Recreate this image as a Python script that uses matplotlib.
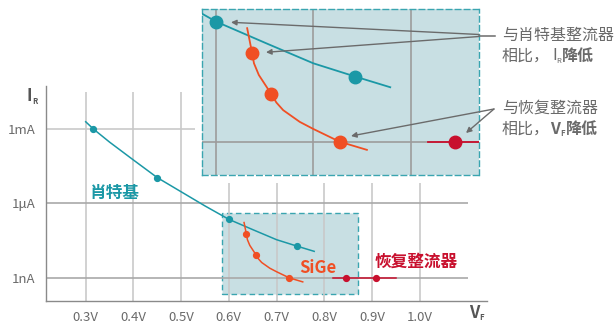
import numpy as np
import matplotlib
matplotlib.use("Agg")
import matplotlib.pyplot as plt
from matplotlib.patches import Rectangle, FancyArrowPatch

plt.rcParams['font.family'] = ['Noto Sans CJK SC', 'DejaVu Sans']

# Schottky diode: marked points and the curve through them (log10 of I_R in A)
schottky_v = [0.316, 0.450, 0.600, 0.743]
schottky_log_ir = [-3.0, -4.96, -6.64, -7.72]
schottky_curve_v = [0.300, 0.316, 0.350, 0.400, 0.450, 0.500, 0.550, 0.600, 0.652, 0.700, 0.743, 0.779]
schottky_curve_log_ir = [-2.71, -3.0, -3.53, -4.25, -4.96, -5.53, -6.10, -6.64, -7.07, -7.46, -7.72, -7.93]

# SiGe rectifier
sige_v = [0.637, 0.657, 0.727]
sige_log_ir = [-7.25, -8.07, -9.0]
sige_curve_v = [0.632, 0.637, 0.639, 0.644, 0.657, 0.662, 0.669, 0.686, 0.700, 0.727, 0.755]
sige_curve_log_ir = [-6.77, -7.25, -7.46, -7.69, -8.07, -8.23, -8.38, -8.61, -8.75, -9.0, -9.16]

# Recovery rectifier
recovery_v = [0.846, 0.908]
recovery_log_ir = [-9.0, -9.0]
recovery_line_v = [0.818, 0.950]
recovery_line_log_ir = [-9.0, -9.0]

x_ticks = [0.3, 0.4, 0.5, 0.6, 0.7, 0.8, 0.9, 1.0]
x_labels = ["0.3V", "0.4V", "0.5V", "0.6V", "0.7V", "0.8V", "0.9V", "1.0V"]
y_ticks = [1e-9, 1e-6, 1e-3]
y_labels = ["1nA", "1μA", "1mA"]

# zoomed window
zoom_v = (0.5856, 0.8702)
zoom_log_ir = (-9.654, -6.393)

TEAL = "#1b98a6"
ORANGE = "#f04f24"
DARKRED = "#c8102e"
FILL = "#c8dfe3"
GRAY_TXT = "#6a6a6a"

W, H = 614, 323
fig = plt.figure(figsize=(W / 100, H / 100), dpi=100)


def px_axes(x0, y0, x1, y1):
    return fig.add_axes([x0 / W, 1 - y1 / H, (x1 - x0) / W, (y1 - y0) / H])


def pw(a):
    return np.power(10.0, a)


# ---- main chart ----
XMIN, XMAX = 0.2157, 1.1413
ax = px_axes(45.5, 86, 487, 301)
ax.set_yscale("log")
ax.set_xlim(XMIN, XMAX)
ax.set_ylim(pw(-9.93), pw(-1.27))
for s in ["top", "right"]:
    ax.spines[s].set_visible(False)
for s in ["left", "bottom"]:
    ax.spines[s].set_color("#8a8a8a")
    ax.spines[s].set_linewidth(1.0)
ax.set_xticks(x_ticks)
ax.set_xticklabels(x_labels)
ax.set_yticks(y_ticks)
ax.set_yticklabels(y_labels)
ax.minorticks_off()
ax.tick_params(length=0, labelsize=9.5, labelcolor=GRAY_TXT, pad=7)

ybot = pw(-9.93)
for v in x_ticks:
    top = pw(-1.51) if v < 0.55 else pw(-5.18)
    ax.vlines(v, ybot, top, color="#c9c9c9", lw=1.2, zorder=1)
ax.hlines(1e-3, XMIN, 0.529, color="#c9c9c9", lw=1.2, zorder=1)
ax.hlines([1e-6, 1e-9], XMIN, 1.101, color="#a9a9a9", lw=1.2, zorder=1)

ax.add_patch(Rectangle((zoom_v[0], pw(zoom_log_ir[0])), zoom_v[1] - zoom_v[0],
                       pw(zoom_log_ir[1]) - pw(zoom_log_ir[0]),
                       facecolor=FILL, edgecolor="#3aa5b0", lw=1.0,
                       linestyle=(0, (4, 2.5)), zorder=0.5))

ax.plot(schottky_curve_v, pw(np.array(schottky_curve_log_ir)), color=TEAL, lw=1.1, zorder=3)
ax.plot(schottky_v, pw(np.array(schottky_log_ir)), "o", color=TEAL, ms=4.2, zorder=4)
ax.plot(sige_curve_v, pw(np.array(sige_curve_log_ir)), color=ORANGE, lw=1.1, zorder=3)
ax.plot(sige_v, pw(np.array(sige_log_ir)), "o", color=ORANGE, ms=4.2, zorder=4)
ax.plot(recovery_line_v, pw(np.array(recovery_line_log_ir)), color=DARKRED, lw=1.1, zorder=3)
ax.plot(recovery_v, pw(np.array(recovery_log_ir)), "o", color=DARKRED, ms=4.2, zorder=4)

# ---- magnified view ----
ins = px_axes(202, 9, 479, 175)
ins.set_yscale("log")
ins.set_xlim(*zoom_v)
ins.set_ylim(pw(zoom_log_ir[0]), pw(zoom_log_ir[1]))
ins.set_facecolor(FILL)
for s in ins.spines.values():
    s.set_color("#3aa5b0")
    s.set_linewidth(1.0)
    s.set_linestyle((0, (4, 2.5)))
ins.set_xticks([])
ins.set_yticks([])
ins.minorticks_off()
for v in [0.6, 0.7, 0.8]:
    ins.axvline(v, color="#9c9c9c", lw=1.2, zorder=1)
ins.axhline(1e-9, color="#9c9c9c", lw=1.2, zorder=1)
ins.plot(schottky_curve_v, pw(np.array(schottky_curve_log_ir)), color=TEAL, lw=1.3, zorder=3)
ins.plot(schottky_v, pw(np.array(schottky_log_ir)), "o", color=TEAL, ms=9, zorder=4)
ins.plot(sige_curve_v, pw(np.array(sige_curve_log_ir)), color=ORANGE, lw=1.3, zorder=3)
ins.plot(sige_v, pw(np.array(sige_log_ir)), "o", color=ORANGE, ms=9, zorder=4)
ins.plot(recovery_line_v, pw(np.array(recovery_line_log_ir)), color=DARKRED, lw=1.3, zorder=3)
ins.plot(recovery_v, pw(np.array(recovery_log_ir)), "o", color=DARKRED, ms=9, zorder=4)

# ---- labels, notes and arrows in pixel space ----
ov = fig.add_axes([0, 0, 1, 1])
ov.set_xlim(0, W)
ov.set_ylim(H, 0)
ov.axis("off")
ov.patch.set_alpha(0)

ov.text(90, 193, "肖特基", color=TEAL, fontsize=12, fontweight="bold", va="center")
ov.text(299, 268, "SiGe", color=ORANGE, fontsize=12, fontweight="bold", va="center")
ov.text(375, 262, "恢复整流器", color=DARKRED, fontsize=12, fontweight="bold", va="center")

ov.text(26, 96, "I", color="#555555", fontsize=12, fontweight="bold", va="center")
ov.text(32, 101, "R", color="#555555", fontsize=5.5, fontweight="bold", va="center")
ov.text(469, 313, "V", color="#555555", fontsize=12, fontweight="bold", va="center")
ov.text(479, 318, "F", color="#555555", fontsize=5.5, fontweight="bold", va="center")

fs = 11.5
ov.text(502, 35, "与肖特基整流器", color=GRAY_TXT, fontsize=fs, va="center")
ov.text(502, 56, "相比，", color=GRAY_TXT, fontsize=fs, va="center")
ov.text(552, 56, "I", color=GRAY_TXT, fontsize=fs, va="center")
ov.text(556, 61, "R", color=GRAY_TXT, fontsize=5.5, va="center")
ov.text(562, 56, "降低", color=GRAY_TXT, fontsize=fs, fontweight="bold", va="center")
ov.text(502, 108, "与恢复整流器", color=GRAY_TXT, fontsize=fs, va="center")
ov.text(502, 129, "相比，", color=GRAY_TXT, fontsize=fs, va="center")
ov.text(550, 129, "V", color=GRAY_TXT, fontsize=fs, fontweight="bold", va="center")
ov.text(560, 134, "F", color=GRAY_TXT, fontsize=5.5, fontweight="bold", va="center")
ov.text(566, 129, "降低", color=GRAY_TXT, fontsize=fs, fontweight="bold", va="center")

arrow_gray = "#6b6b6b"
ov.plot([479, 495], [35.7, 35.7], color=arrow_gray, lw=1.1)
for start, end in [((479, 34.5), (231, 22.3)), ((479, 36.5), (266, 52.3)),
                   ((494, 109), (351, 136)), ((494, 109), (466, 133))]:
    ov.add_patch(FancyArrowPatch(start, end, arrowstyle="-|>", mutation_scale=8,
                                 color=arrow_gray, lw=1.0, shrinkA=0, shrinkB=0))

fig.savefig("out.png", dpi=100)
